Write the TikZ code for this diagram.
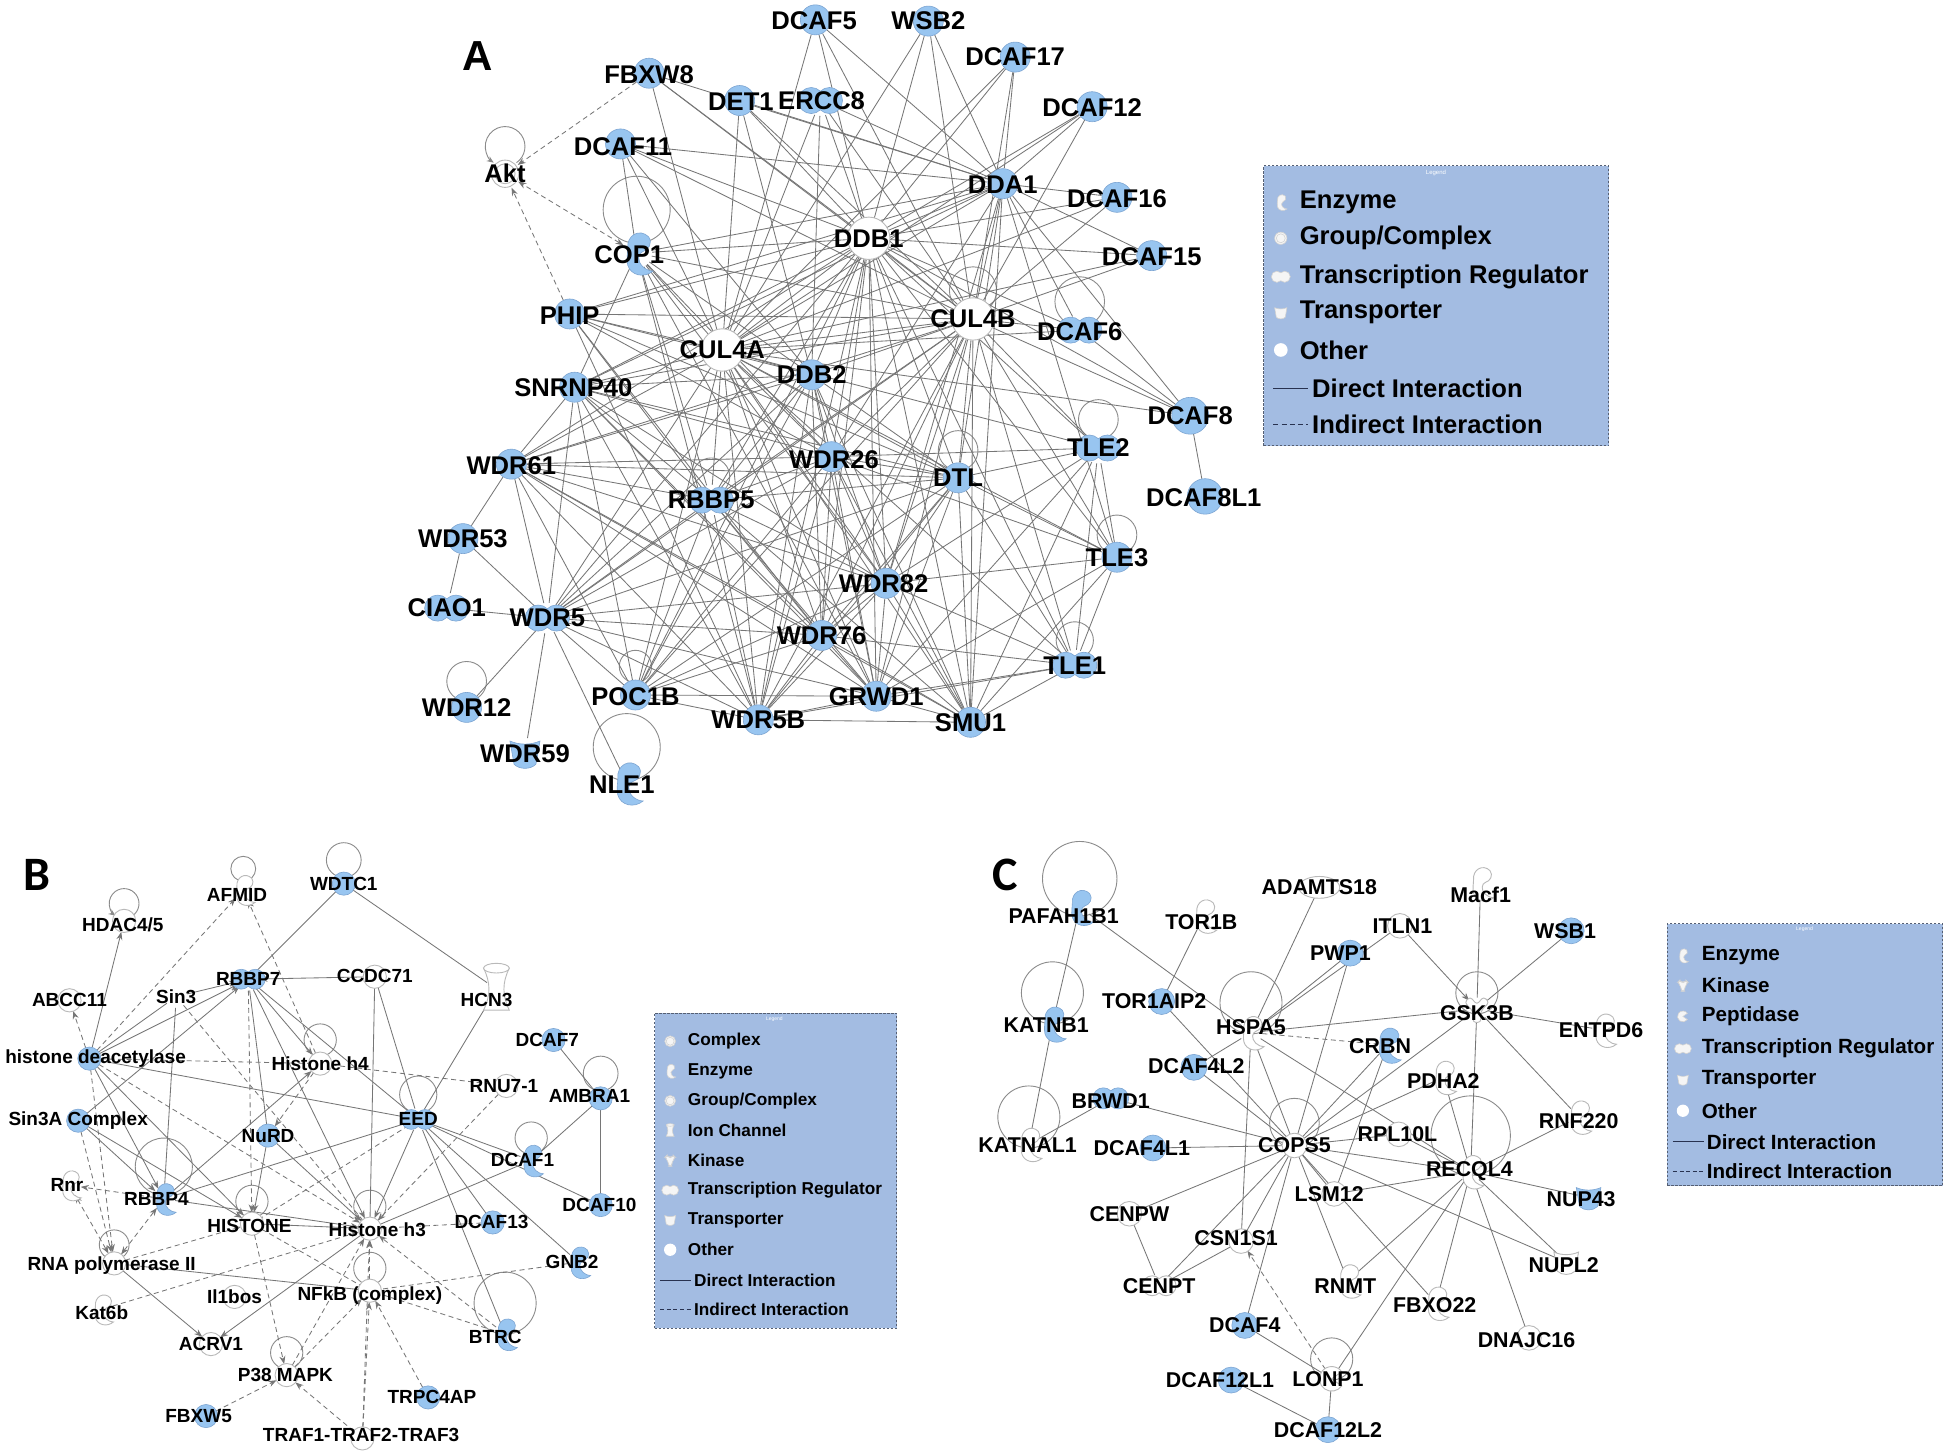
\documentclass[tikz,border=0pt]{standalone}
\usepackage{fontspec}
\setmainfont{Liberation Sans}
\newfontfamily\calfont{Carlito}
\usetikzlibrary{arrows.meta}
\definecolor{nblue}{RGB}{152,197,240}
\definecolor{nbluedk}{RGB}{125,165,210}
\definecolor{edgec}{RGB}{118,118,118}
\definecolor{legfill}{RGB}{163,188,226}
\definecolor{legdraw}{RGB}{85,95,115}
\definecolor{legline}{RGB}{40,50,80}
\begin{document}
\begin{tikzpicture}[x=0.6205pt, y=-0.6205pt,
  hitA/.style={circle, inner sep=0pt, minimum size=15pt, draw=none},
  hitH/.style={circle, inner sep=0pt, minimum size=21pt, draw=none},
  hitB/.style={circle, inner sep=0pt, minimum size=11pt, draw=none},
  edg/.style={draw=edgec, line width=0.42pt},
  edga/.style={edg, -{Stealth[length=4pt,width=3pt]}},
  dedg/.style={edg, dash pattern=on 2.5pt off 1.8pt},
  dedga/.style={dedg, -{Stealth[length=4pt,width=3pt]}},
  dedgab/.style={dedg, {Stealth[length=4pt,width=3pt]}-{Stealth[length=4pt,width=3pt]}},
  loopc/.style={draw=edgec!85, line width=0.45pt},
  fblue/.style={fill=nblue, draw=nbluedk, line width=0.3pt},
  fwhite/.style={fill=white, draw=gray!55, line width=0.45pt},
  ficon/.style={fill=white!92!gray, draw=gray!35, line width=0.3pt},
  la/.style={font=\bfseries\fontsize{12.8}{14}\selectfont, inner sep=0pt},
  lb/.style={font=\bfseries\fontsize{9.5}{10}\selectfont, inner sep=0pt},
  lc/.style={font=\bfseries\fontsize{10.7}{11}\selectfont, inner sep=0pt},
  legA/.style={font=\bfseries\fontsize{12.8}{14}\selectfont, inner sep=0pt, anchor=west},
  legB/.style={font=\bfseries\fontsize{8.6}{10}\selectfont, inner sep=0pt, anchor=west},
  legC/.style={font=\bfseries\fontsize{10.3}{11}\selectfont, inner sep=0pt, anchor=west},
  legbox/.style={draw=legdraw, fill=legfill, dash pattern=on 1.2pt off 0.8pt, line width=0.5pt, anchor=north west, inner sep=0pt},
  pics/oth/.style={code={\path[#1] (0,0) circle (11);}},
  pics/enz/.style={code={\path[#1] (-6,-3) .. controls (-7,-12) and (2,-17) .. (8,-11) .. controls (11,-7) and (8,-2) .. (4,-1) .. controls (1,0) and (0,5) .. (4,9) .. controls (6,11) and (9,12) .. (11,12) .. controls (5,17) and (-4,15) .. (-6,8) .. controls (-7,4) and (-6,0) .. (-6,-3) -- cycle;}},
  pics/trg/.style={code={\path[#1] (0,-7.14) arc[start angle=-45.6, end angle=-314.4, radius=10] arc[start angle=134.4, end angle=-134.4, radius=10] -- cycle;}},
  pics/trp/.style={code={\path[#1] (-11,-9) .. controls (-4,-6) and (4,-6) .. (11,-9) -- (8,8) .. controls (4,12) and (-4,12) .. (-8,8) -- cycle;}},
  pics/grp/.style={code={\path[#1] (0,0) circle (11); \path[#1] (0,0) circle (8);}},
  pics/kin/.style={code={\path[#1, rounded corners=1.5pt] (-3.5,12) -- (-3.5,2) -- (-11,-6) -- (-6,-11) -- (0,-4) -- (6,-11) -- (11,-6) -- (3.5,2) -- (3.5,12) -- cycle;}},
  pics/pep/.style={code={\path[#1] (0,0) -- (35:11) arc[start angle=35, end angle=325, radius=11] -- cycle;}},
  pics/ion/.style={code={\path[#1] (-9,-13) -- (9,-13) .. controls (4,-4) and (4,4) .. (9,13) -- (-9,13) .. controls (-4,4) and (-4,-4) .. (-9,-13) -- cycle; \path[#1] (0,-13) ellipse (9 and 3);}},
]
\fill[white] (0,0) rectangle (1568,1169);
\useasboundingbox (0,0) rectangle (1568,1169);

% ================= PANEL A : nodes =================
\foreach \id/\x/\y in {Akt/407/140, FBXW8/523/59, DCAF5/657/16, WSB2/748/17, DCAF17/818/46,
  DET1/596/81, ERCC8/661/81, DCAF12/880/86, DCAF11/500/116, DDA1/808/148, DCAF16/900/159,
  DCAF15/928/206, COP1/513/204, PHIP/459/253, DCAF6/870/266, DDB2/654/302, SNRNP40/463/312,
  DCAF8/959/335, TLE2/885/361, WDR61/412/374, WDR26/670/368, DTL/772/385, RBBP5/573/403,
  DCAF8L1/971/400, WDR53/373/434, TLE3/900/449, WDR82/714/470, CIAO1/360/490, WDR5/441/498,
  WDR76/662/512, TLE1/866/536, POC1B/512/560, GRWD1/706/561, WDR12/376/570, WDR5B/611/580,
  SMU1/782/582, WDR59/423/607, NLE1/505/631}
  \node[hitA] (\id) at (\x,\y) {};
\foreach \id/\x/\y in {DDB1/700/192, CUL4B/784/257, CUL4A/582/282}
  \node[hitH] (\id) at (\x,\y) {};

% ================= PANEL B : nodes =================
\foreach \id/\x/\y in {WDTC1/277/712, AFMID/196/717, HDAC45/100/742, RBBP7/200/789, CCDC71/302/787,
  HCN3/400/797, ABCC11/56/806, Sin3/142/803, HDAC/72/853, HH4/258/857, DCAF7/446/838, RNU7/408/875,
  AMBRA1/484/885, SinA/63/903, NuRD/216/915, EED/337/902, DCAF1/428/935, Rnr/56/955, RBBP4/132/966,
  DCAF10/484/971, HIST/203/986, HH3/298/990, DCAF13/397/985, GNB2/466/1017, RNApol/92/1018,
  Il1bos/189/1045, NFkB/298/1040, Kat6b/82/1055, BTRC/407/1075, ACRV1/170/1083, P38/231/1108,
  TRPC4AP/345/1126, FBXW5/166/1141, TRAF/292/1159}
  \node[hitB] (\id) at (\x,\y) {};

% ================= PANEL C : nodes =================
\foreach \id/\x/\y in {PAFAH/870/731, ADAMTS18/1063/715, TOR1B/970/738, Macf1/1193/712, ITLN1/1128/746,
  WSB1/1266/750, PWP1/1088/768, TOR1AIP2/936/807, KATNB1/848/825, HSPA5/1008/832, GSK3B/1190/813,
  ENTPD6/1292/830, CRBN/1118/842, DCAF4L2/962/860, PDHA2/1163/868, BRWD1/895/885, RNF220/1272/900,
  KATNAL1/829/922, DCAF4L1/929/925, COPS5/1043/923, RPL10L/1127/914, RECQL4/1185/944, LSM12/1075/962,
  NUP43/1280/965, CENPW/910/978, CSN1S1/1000/1000, NUPL2/1262/1017, CENPT/934/1036, RNMT/1086/1032,
  FBXO22/1157/1050, DNAJC16/1232/1078, DCAF4/1003/1068, LONP1/1073/1111, DCAF12L1/992/1112,
  DCAF12L2/1070/1152}
  \node[hitB] (\id) at (\x,\y) {};

% ================= self loops =================
\foreach \id/\d/\r in {COP1/35/27, DCAF6/23/20, CUL4B/23/19, DTL/22/16, TLE2/23/16,
  TLE3/18/16, TLE1/20/15, POC1B/23/13, NLE1/29/27, WDR12/21/16, RBBP5/19/15,
  WDTC1/19/14, AFMID/17/10, HH4/19/13, AMBRA1/20/14, EED/20/15, DCAF1/18/13,
  RBBP4/26/23, HIST/18/13, HH3/18/13, RNApol/15/12, NFkB/18/13, BTRC/25/25, P38/18/13,
  PAFAH/23/30, KATNB1/25/25, KATNAL1/22/25, HSPA5/24/25, GSK3B/13/17, COPS5/18/20,
  RECQL4/29/32, LONP1/16/17}
  \draw[loopc] (\id.center) ++(0,-\d) circle (\r);
\foreach \id/\d/\r in {Akt/22/16, HDAC45/14/12}
  \draw[loopc, -{Stealth[length=3.5pt,width=2.8pt]}] (\id.center) ++(0,-\d) ++(55:\r)
    arc[start angle=55, end angle=-235, radius=\r];

% ================= PANEL A : edges =================
\foreach \h in {DDB1,CUL4A,CUL4B}{
  \foreach \s in {DCAF5,WSB2,DCAF17,DCAF12,DCAF16,DCAF15,DCAF6,DCAF8,FBXW8,DET1,ERCC8,DCAF11,COP1,
    PHIP,SNRNP40,WDR61,WDR5,POC1B,WDR5B,GRWD1,SMU1,TLE1,TLE3,TLE2,DTL,WDR82,WDR76,RBBP5,WDR26,DDA1,DDB2}
    \draw[edg] (\s) -- (\h);
}
\foreach \s in {WDR5,WDR61,SNRNP40,RBBP5,WDR26,WDR82,WDR76,GRWD1,WDR5B,POC1B,COP1,DET1,ERCC8,
  DCAF11,PHIP,DTL,SMU1}
  \draw[edg] (\s) -- (DDB2);
\foreach \s in {WSB2,DCAF17,DCAF12,DCAF16,DCAF15,DCAF6,DCAF8,ERCC8,DET1,DCAF11,COP1,WDR26,DTL,
  WDR82,PHIP,SNRNP40,FBXW8,DCAF5,TLE3,SMU1}
  \draw[edg] (\s) -- (DDA1);
\foreach \a/\b in {DDB1/CUL4A, DDB1/CUL4B, CUL4A/CUL4B,
  WDR61/WDR5, WDR61/RBBP5, WDR61/WDR26, WDR61/DTL, WDR61/WDR82, WDR61/WDR76, WDR61/GRWD1,
  WDR61/WDR5B, WDR61/POC1B, WDR61/SNRNP40, WDR61/SMU1,
  WDR5/RBBP5, WDR5/WDR26, WDR5/WDR82, WDR5/WDR76, WDR5/GRWD1, WDR5/WDR5B, WDR5/POC1B,
  WDR5/SNRNP40, WDR5/DTL,
  SNRNP40/RBBP5, SNRNP40/WDR26, SNRNP40/WDR82, SNRNP40/WDR76, SNRNP40/GRWD1, SNRNP40/WDR5B,
  SNRNP40/POC1B, SNRNP40/DTL,
  PHIP/WDR26, PHIP/RBBP5, PHIP/WDR5B, PHIP/WDR76, PHIP/DTL,
  COP1/WDR5B, COP1/RBBP5, COP1/WDR26, COP1/GRWD1, COP1/WDR82, COP1/SNRNP40, COP1/DCAF11,
  RBBP5/WDR26, RBBP5/DTL, RBBP5/WDR82, RBBP5/WDR76, RBBP5/GRWD1, RBBP5/WDR5B, RBBP5/POC1B, RBBP5/SMU1,
  WDR26/DTL, WDR26/WDR82, WDR26/WDR76, WDR26/GRWD1, WDR26/WDR5B, WDR26/POC1B, WDR26/SMU1,
  WDR26/TLE2, WDR26/TLE3,
  DTL/WDR82, DTL/WDR76, DTL/GRWD1, DTL/WDR5B, DTL/POC1B, DTL/SMU1, DTL/TLE2, DTL/TLE3, DTL/TLE1,
  WDR82/WDR76, WDR82/GRWD1, WDR82/WDR5B, WDR82/POC1B, WDR82/SMU1, WDR82/TLE1, WDR82/TLE2, WDR82/TLE3,
  WDR76/GRWD1, WDR76/WDR5B, WDR76/POC1B, WDR76/SMU1, WDR76/TLE1,
  GRWD1/WDR5B, GRWD1/POC1B, GRWD1/SMU1, GRWD1/TLE1, GRWD1/TLE2, GRWD1/TLE3,
  WDR5B/POC1B, WDR5B/SMU1, WDR5B/TLE1, SMU1/TLE1, SMU1/TLE2, SMU1/TLE3,
  TLE1/TLE2, TLE1/TLE3, TLE2/TLE3,
  WDR5/CIAO1, WDR5/WDR53, WDR5/WDR12, WDR5/WDR59, WDR5/NLE1, WDR61/WDR53, WDR53/CIAO1,
  DCAF8/DCAF8L1, DCAF6/DCAF8}
  \draw[edg] (\a) -- (\b);
\draw[dedga] (FBXW8) -- (Akt);
\draw[dedga] (PHIP) -- (Akt);
\draw[dedgab] (COP1) -- (Akt);

% ================= PANEL B : edges =================
\foreach \a/\b in {HDAC/HDAC45, HDAC/RBBP7, HDAC/RBBP4, HDAC/HIST, SinA/RBBP7, SinA/RBBP4, SinA/HIST,
  Sin3/RBBP7, CCDC71/RBBP7, RBBP7/HH4, RBBP7/HH3, RBBP4/HH4, RBBP4/HH3, NuRD/HH3, NuRD/HIST,
  EED/HH3, RNApol/ACRV1, HH3/ACRV1}
  \draw[edga] (\a) -- (\b);
\foreach \a/\b in {HDAC/Sin3, HDAC/EED, Sin3/RBBP4, WDTC1/RBBP7, WDTC1/HCN3, RBBP7/NuRD, RBBP7/EED,
  RBBP4/EED, CCDC71/HH3, CCDC71/EED, HCN3/EED, EED/DCAF1, EED/DCAF13, EED/GNB2, EED/BTRC, EED/DCAF10,
  DCAF7/AMBRA1, AMBRA1/DCAF1, AMBRA1/DCAF10, DCAF1/HH3, HIST/HH3, RNApol/NFkB}
  \draw[edg] (\a) -- (\b);
\foreach \a/\b in {HDAC/ABCC11, HDAC/AFMID, HDAC/HH3, HDAC/RNApol, SinA/RNApol, HH4/AFMID, RBBP7/HIST,
  RBBP4/Rnr, HH4/NuRD, RNU7/HH3, BTRC/HH3, TRPC4AP/NFkB, NFkB/HH3, HIST/P38, RNApol/HIST, Kat6b/HH3,
  P38/HH3, P38/NFkB, FBXW5/P38, TRAF/P38, TRAF/NFkB, TRAF/HH3}
  \draw[dedga] (\a) -- (\b);
\foreach \a/\b in {HDAC/HH4, HH4/RNU7, Sin3/HH3, EED/HIST, DCAF13/HH3, GNB2/NFkB, BTRC/NFkB, HIST/NFkB}
  \draw[dedg] (\a) -- (\b);
\foreach \a/\b in {Rnr/RNApol, RNApol/RBBP4}
  \draw[dedgab] (\a) -- (\b);

% ================= PANEL C : edges =================
\foreach \a/\b in {PAFAH/KATNB1, PAFAH/HSPA5, KATNB1/KATNAL1, TOR1B/TOR1AIP2, ADAMTS18/HSPA5,
  PWP1/HSPA5, ITLN1/HSPA5, Macf1/GSK3B, WSB1/GSK3B, HSPA5/GSK3B, GSK3B/ENTPD6, GSK3B/RNF220,
  GSK3B/RECQL4, GSK3B/COPS5, HSPA5/DCAF4L2, HSPA5/RECQL4, HSPA5/COPS5, HSPA5/CSN1S1, PWP1/COPS5,
  TOR1AIP2/COPS5, DCAF4L2/COPS5, BRWD1/COPS5, BRWD1/KATNAL1, DCAF4L1/COPS5, CRBN/COPS5, CRBN/LSM12,
  COPS5/RPL10L, COPS5/PDHA2, COPS5/RECQL4, COPS5/CENPW, COPS5/CSN1S1, COPS5/CENPT, CSN1S1/CENPT,
  CENPW/CENPT, COPS5/RNMT, COPS5/DCAF4, COPS5/NUPL2, COPS5/FBXO22, COPS5/LSM12,
  RECQL4/PDHA2, RECQL4/RPL10L, RECQL4/LSM12, RECQL4/NUP43, RECQL4/RNF220, RECQL4/NUPL2,
  RECQL4/DNAJC16, RECQL4/FBXO22, RECQL4/RNMT, RECQL4/LONP1, DCAF4/LONP1, LONP1/DCAF12L2,
  DCAF12L1/DCAF12L2}
  \draw[edg] (\a) -- (\b);
\draw[edga] (ITLN1) -- (GSK3B);
\draw[dedga] (LONP1) -- (CSN1S1);
\draw[dedg] (HSPA5) -- (CRBN);

% ================= shapes =================
% panel A
\foreach \id in {FBXW8,DCAF5,WSB2,DCAF17,DET1,DCAF12,DCAF11,DDA1,DCAF16,DCAF15,PHIP,DDB2,SNRNP40,
  WDR61,WDR26,DTL,WDR53,WDR82,WDR76,POC1B,GRWD1,WDR12,WDR5B,SMU1,TLE3}
  \pic[scale=1.1] at (\id) {oth=fblue};
\pic[scale=1.35] at (DCAF8) {oth=fblue};
\pic[scale=1.3] at (DCAF8L1) {oth=fblue};
\foreach \id in {ERCC8,RBBP5,CIAO1,WDR5,TLE2,TLE1,DCAF6}
  \pic[scale=1.05] at (\id) {trg=fblue};
\foreach \id in {COP1,NLE1}
  \pic[scale=1.2] at (\id) {enz=fblue};
\pic[scale=1.1] at (WDR59) {trp=fblue};
\foreach \id in {DDB1,CUL4B,CUL4A}
  \pic[scale=1.55] at (\id) {oth=fwhite};
\pic[scale=1.0] at (Akt) {grp=fwhite};
% panel B
\foreach \id in {WDTC1,HDAC,DCAF7,AMBRA1,SinA,NuRD,DCAF10,DCAF13,TRPC4AP,FBXW5}
  \pic[scale=0.85] at (\id) {oth=fblue};
\foreach \id in {RBBP7,EED}
  \pic[scale=0.8] at (\id) {trg=fblue};
\foreach \id in {DCAF1,RBBP4,GNB2,BTRC}
  \pic[scale=0.9] at (\id) {enz=fblue};
\foreach \id in {HDAC45,CCDC71,ABCC11,HH4,RNU7,HIST,HH3,RNApol,Il1bos,NFkB,ACRV1,P38,TRAF}
  \pic[scale=0.85] at (\id) {oth=fwhite};
\foreach \id in {AFMID,Rnr,Kat6b}
  \pic[scale=0.85] at (\id) {enz=fwhite};
\pic[xscale=1.15,yscale=1.3] at (HCN3) {ion=fwhite};
% panel C
\foreach \id in {PAFAH,KATNB1,CRBN}
  \pic[scale=1.0] at (\id) {enz=fblue};
\foreach \id in {WSB1,PWP1,TOR1AIP2,DCAF4L2,DCAF4L1,DCAF4,DCAF12L1,DCAF12L2}
  \pic[scale=0.95] at (\id) {oth=fblue};
\pic[scale=0.85] at (BRWD1) {trg=fblue};
\pic[scale=0.9] at (NUP43) {trp=fblue};
\foreach \id in {TOR1B,Macf1,HSPA5,ENTPD6,PDHA2,RNF220,KATNAL1,RECQL4,RNMT,FBXO22}
  \pic[scale=0.95] at (\id) {enz=fwhite};
\pic[scale=0.9] at (GSK3B) {kin=fwhite};
\foreach \id in {ITLN1,COPS5,RPL10L,LSM12,CENPW,CSN1S1,DNAJC16}
  \pic[scale=0.9] at (\id) {oth=fwhite};
\pic[xscale=1.5,yscale=0.8] at (ADAMTS18) {oth=fwhite};
\pic[scale=0.9] at (LONP1) {pep=fwhite};
\pic[scale=0.8] at (CENPT) {trg=fwhite};
\pic[scale=0.9] at (NUPL2) {trp=fwhite};

% ================= labels =================
\node[font=\bfseries\fontsize{21}{22}\selectfont, inner sep=0pt] (letA) at (385,45) {A};
\node[font=\calfont\bfseries\fontsize{24}{25}\selectfont, inner sep=0pt] (letB) at (30,705) {B};
\node[font=\calfont\bfseries\fontsize{24}{25}\selectfont, inner sep=0pt] (letC) at (810,705) {C};

\foreach \id/\dx/\dy/\t in {Akt/0/0/Akt, FBXW8/0/1/FBXW8, DCAF5/-1/1/DCAF5, WSB2/0/0/WSB2,
  DCAF17/0/0/DCAF17, DET1/1/1/DET1, ERCC8/1/0/ERCC8, DCAF12/0/1/DCAF12, DCAF11/2/2/DCAF11,
  DDA1/0/1/DDA1, DCAF16/0/1/DCAF16, DCAF15/0/1/DCAF15, COP1/-6/1/COP1, PHIP/0/1/PHIP,
  DCAF6/0/1/DCAF6, DDB2/0/0/DDB2, SNRNP40/-1/0/SNRNP40, DCAF8/0/0/DCAF8, TLE2/0/0/TLE2,
  WDR61/0/1/WDR61, WDR26/2/2/WDR26, DTL/0/0/DTL, RBBP5/0/0/RBBP5, DCAF8L1/-1/1/DCAF8L1,
  WDR53/0/0/WDR53, TLE3/0/0/TLE3, WDR82/-2/0/WDR82, CIAO1/0/0/CIAO1, WDR5/0/0/WDR5,
  WDR76/0/0/WDR76, TLE1/0/0/TLE1, POC1B/0/1/POC1B, GRWD1/0/0/GRWD1, WDR12/0/0/WDR12,
  WDR5B/0/0/WDR5B, SMU1/0/0/SMU1, WDR59/0/0/WDR59, NLE1/-4/1/NLE1, DDB1/0/0/DDB1,
  CUL4B/0/0/CUL4B, CUL4A/0/0/CUL4A}
  \node[la] (t\id) at ([shift={(\dx,\dy)}]\id.center) {\t};

\foreach \id/\dx/\dy/\t in {WDTC1/0/0/WDTC1, AFMID/-5/4/AFMID, HDAC45/-1/3/{HDAC4/5}, RBBP7/0/0/RBBP7,
  CCDC71/0/-1/CCDC71, HCN3/-8/9/HCN3, ABCC11/0/0/ABCC11, Sin3/0/0/Sin3, HDAC/5/0/histone deacetylase,
  HH4/0/0/Histone h4, DCAF7/-5/0/DCAF7, RNU7/-2/0/RNU7-1, AMBRA1/-9/-2/AMBRA1, SinA/0/0/Sin3A Complex,
  NuRD/0/0/NuRD, EED/0/0/EED, DCAF1/-7/0/DCAF1, Rnr/-2/0/Rnr, RBBP4/-6/0/RBBP4, DCAF10/-1/0/DCAF10,
  HIST/-2/2/HISTONE, HH3/6/1/Histone h3, DCAF13/-1/0/DCAF13, GNB2/-5/0/GNB2,
  RNApol/-2/2/RNA polymerase II, Il1bos/0/0/Il1bos, NFkB/0/4/NFkB (complex), Kat6b/0/3/Kat6b,
  BTRC/-8/2/BTRC, ACRV1/0/0/ACRV1, P38/-1/0/P38 MAPK, TRPC4AP/3/0/TRPC4AP, FBXW5/-6/0/FBXW5,
  TRAF/-1/-3/TRAF1-TRAF2-TRAF3}
  \node[lb] (t\id) at ([shift={(\dx,\dy)}]\id.center) {\t};

\foreach \id/\dx/\dy/\t in {PAFAH/-13/7/PAFAH1B1, ADAMTS18/0/0/ADAMTS18, TOR1B/-2/5/TOR1B,
  Macf1/0/9/Macf1, ITLN1/2/0/ITLN1, WSB1/-5/0/WSB1, PWP1/-8/0/PWP1, TOR1AIP2/-6/0/TOR1AIP2,
  KATNB1/-5/1/KATNB1, HSPA5/0/-4/HSPA5, GSK3B/0/3/GSK3B, ENTPD6/-2/0/ENTPD6, CRBN/-6/1/CRBN,
  DCAF4L2/2/-1/DCAF4L2, PDHA2/0/3/PDHA2, BRWD1/0/2/BRWD1, RNF220/0/3/RNF220, KATNAL1/-1/1/KATNAL1,
  DCAF4L1/-9/0/DCAF4L1, COPS5/0/0/COPS5, RPL10L/-1/0/RPL10L, RECQL4/-1/0/RECQL4, LSM12/-4/0/LSM12,
  NUP43/-6/1/NUP43, CENPW/0/0/CENPW, CSN1S1/-4/-2/CSN1S1, NUPL2/-2/2/NUPL2, CENPT/0/0/CENPT,
  RNMT/-2/4/RNMT, FBXO22/-1/2/FBXO22, DNAJC16/-2/2/DNAJC16, DCAF4/0/0/DCAF4, LONP1/-3/0/LONP1,
  DCAF12L1/-9/0/DCAF12L1, DCAF12L2/0/0/DCAF12L2}
  \node[lc] (t\id) at ([shift={(\dx,\dy)}]\id.center) {\t};

% ================= legend A =================
\node[legbox, minimum width=172.5pt, minimum height=140.2pt] (legboxA) at (1018,133) {};
\node[font=\fontsize{3}{3}\selectfont, text=white, inner sep=0pt] (legtA) at (1157,139) {Legend};
\pic[scale=0.45] at (1032,163) {enz=ficon};
\pic[scale=0.45] at (1032,192) {grp=ficon};
\pic[scale=0.45] at (1032,223) {trg=ficon};
\pic[scale=0.45] at (1032,252) {trp=ficon};
\pic[scale=0.5] at (1032,282) {oth={fill=white}};
\node[legA] (lA1) at (1047,163) {Enzyme};
\node[legA] (lA2) at (1047,192) {Group/Complex};
\node[legA] (lA3) at (1047,223) {Transcription Regulator};
\node[legA] (lA4) at (1047,252) {Transporter};
\node[legA] (lA5) at (1047,282) {Other};
\draw[legline, line width=0.6pt] (1026,313) -- (1054,313);
\draw[legline, line width=0.6pt, dash pattern=on 2.5pt off 1.6pt] (1026,342) -- (1054,342);
\node[legA] (lA6) at (1057,313) {Direct Interaction};
\node[legA] (lA7) at (1057,342) {Indirect Interaction};

% ================= legend B =================
\node[legbox, minimum width=121pt, minimum height=157.6pt] (legboxB) at (527,816) {};
\node[font=\fontsize{2.5}{3}\selectfont, text=white, inner sep=0pt] (legtB) at (624,821) {Legend};
\pic[scale=0.4] at (540,839) {grp=ficon};
\pic[scale=0.4] at (540,863) {enz=ficon};
\pic[scale=0.4] at (540,887) {grp=ficon};
\pic[scale=0.35] at (540,911) {ion=ficon};
\pic[scale=0.4] at (540,935) {kin=ficon};
\pic[scale=0.4] at (540,959) {trg=ficon};
\pic[scale=0.4] at (540,983) {trp=ficon};
\pic[scale=0.45] at (540,1007) {oth={fill=white}};
\node[legB] (lB1) at (554,839) {Complex};
\node[legB] (lB2) at (554,863) {Enzyme};
\node[legB] (lB3) at (554,887) {Group/Complex};
\node[legB] (lB4) at (554,911) {Ion Channel};
\node[legB] (lB5) at (554,935) {Kinase};
\node[legB] (lB6) at (554,959) {Transcription Regulator};
\node[legB] (lB7) at (554,983) {Transporter};
\node[legB] (lB8) at (554,1007) {Other};
\draw[legline, line width=0.5pt] (532,1032) -- (557,1032);
\draw[legline, line width=0.5pt, dash pattern=on 2pt off 1.3pt] (532,1055) -- (557,1055);
\node[legB] (lB9) at (559,1032) {Direct Interaction};
\node[legB] (lB10) at (559,1055) {Indirect Interaction};

% ================= legend C =================
\node[legbox, minimum width=137.8pt, minimum height=130.9pt] (legboxC) at (1343,744) {};
\node[font=\fontsize{2.5}{3}\selectfont, text=white, inner sep=0pt] (legtC) at (1454,749) {Legend};
\pic[scale=0.4] at (1356,770) {enz=ficon};
\pic[scale=0.4] at (1356,794) {kin=ficon};
\pic[scale=0.4] at (1356,819) {pep=ficon};
\pic[scale=0.4] at (1356,845) {trg=ficon};
\pic[scale=0.4] at (1356,870) {trp=ficon};
\pic[scale=0.45] at (1356,895) {oth={fill=white}};
\node[legC] (lC1) at (1371,770) {Enzyme};
\node[legC] (lC2) at (1371,794) {Kinase};
\node[legC] (lC3) at (1371,819) {Peptidase};
\node[legC] (lC4) at (1371,845) {Transcription Regulator};
\node[legC] (lC5) at (1371,870) {Transporter};
\node[legC] (lC6) at (1371,895) {Other};
\draw[legline, line width=0.5pt] (1348,920) -- (1373,920);
\draw[legline, line width=0.5pt, dash pattern=on 2pt off 1.3pt] (1348,944) -- (1373,944);
\node[legC] (lC7) at (1375,920) {Direct Interaction};
\node[legC] (lC8) at (1375,944) {Indirect Interaction};
\end{tikzpicture}
\end{document}
